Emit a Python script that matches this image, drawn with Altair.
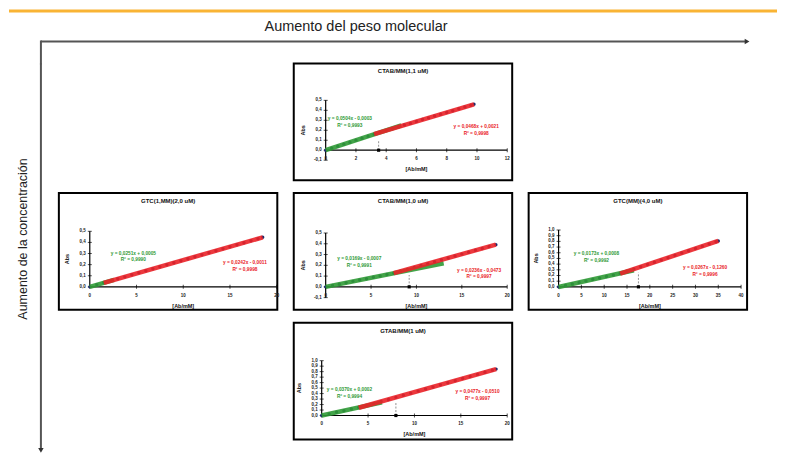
import altair as alt
import pandas as pd

# ---------------- data ----------------
top_title = "CTAB/MM(1,1 uM)"
left_title = "GTC(1,MM)(2,0 uM)"
center_title = "CTAB/MM(1,0 uM)"
right_title = "GTC(MM)(4,0 uM)"
bottom_title = "GTAB/MM(1 uM)"

top_x = [0.0, 0.4, 0.8, 1.2, 1.6, 2.0, 2.4, 2.8, 3.2, 3.6, 4.0, 4.4, 4.8, 5.2, 5.6, 6.0,
         6.4, 6.8, 7.2, 7.6, 8.0, 8.4, 8.8, 9.2, 9.6, 9.8]
top_y = [0.000, 0.021, 0.040, 0.061, 0.080, 0.101, 0.119, 0.141, 0.160, 0.180, 0.197, 0.216,
         0.233, 0.252, 0.269, 0.289, 0.307, 0.324, 0.343, 0.361, 0.379, 0.396, 0.415, 0.433,
         0.451, 0.460]

left_x = [0, 0.75, 1.5, 2.25, 3, 3.75, 4.5, 5.25, 6, 6.75, 7.5, 8.25, 9, 9.75, 10.5, 11.25,
          12, 12.75, 13.5, 14.25, 15, 15.75, 16.5, 17.25, 18, 18.5]
left_y = [0.000, 0.019, 0.037, 0.054, 0.073, 0.090, 0.109, 0.127, 0.145, 0.163, 0.181, 0.199,
          0.217, 0.235, 0.253, 0.271, 0.289, 0.307, 0.325, 0.343, 0.361, 0.379, 0.397, 0.415,
          0.434, 0.446]

center_x = [0, 0.75, 1.5, 2.25, 3, 3.75, 4.5, 5.25, 6, 6.75, 7.5, 8.25, 9, 9.75, 10.5, 11.25,
            12, 12.75, 13.5, 14.25, 15, 15.75, 16.5, 17.25, 18, 18.75]
center_y = [0.000, 0.013, 0.025, 0.038, 0.051, 0.063, 0.076, 0.089, 0.101, 0.114, 0.127, 0.145,
            0.162, 0.180, 0.198, 0.215, 0.233, 0.251, 0.268, 0.286, 0.304, 0.322, 0.339, 0.357,
            0.375, 0.392]

right_x = [0, 1.5, 3, 4.5, 6, 7.5, 9, 10.5, 12, 13.5, 15, 16.5, 18, 19.5, 21, 22.5, 24, 25.5,
           27, 28.5, 30, 31.5, 33, 34.5, 35]
right_y = [0.000, 0.026, 0.052, 0.078, 0.104, 0.130, 0.156, 0.182, 0.208, 0.234, 0.274, 0.314,
           0.354, 0.394, 0.434, 0.474, 0.514, 0.554, 0.594, 0.634, 0.674, 0.714, 0.754, 0.794,
           0.807]

bottom_x = [0, 0.8, 1.6, 2.4, 3.2, 4.0, 4.8, 5.6, 6.4, 7.2, 8.0, 8.8, 9.6, 10.4, 11.2, 12.0,
            12.8, 13.6, 14.4, 15.2, 16.0, 16.8, 17.6, 18.4, 18.8]
bottom_y = [0.000, 0.030, 0.059, 0.089, 0.118, 0.148, 0.178, 0.216, 0.254, 0.292, 0.331, 0.369,
            0.407, 0.445, 0.483, 0.521, 0.560, 0.598, 0.636, 0.674, 0.712, 0.750, 0.789, 0.827,
            0.846]

top_xticks = [0, 2, 4, 6, 8, 10, 12]
top_yticks = [-0.1, 0.0, 0.1, 0.2, 0.3, 0.4, 0.5]
left_xticks = [0, 5, 10, 15, 20]
left_yticks = [0.0, 0.1, 0.2, 0.3, 0.4, 0.5]
center_xticks = [0, 5, 10, 15, 20]
center_yticks = [-0.1, 0.0, 0.1, 0.2, 0.3, 0.4, 0.5]
right_xticks = [0, 5, 10, 15, 20, 25, 30, 35, 40]
right_yticks = [0.0, 0.1, 0.2, 0.3, 0.4, 0.5, 0.6, 0.7, 0.8, 0.9, 1.0]
bottom_xticks = [0, 5, 10, 15, 20]
bottom_yticks = [0.0, 0.1, 0.2, 0.3, 0.4, 0.5, 0.6, 0.7, 0.8, 0.9, 1.0]

top_eqs = ["y = 0,0504x - 0,0003\nR² = 0,9993", "y = 0,0468x + 0,0021\nR² = 0,9998"]
left_eqs = ["y = 0,0251x + 0,0005\nR² = 0,9990", "y = 0,0242x - 0,0011\nR² = 0,9998"]
center_eqs = ["y = 0,0169x - 0,0007\nR² = 0,9991", "y = 0,0236x - 0,0473\nR² = 0,9997"]
right_eqs = ["y = 0,0173x + 0,0008\nR² = 0,9992", "y = 0,0267x - 0,1260\nR² = 0,9996"]
bottom_eqs = ["y = 0,0370x + 0,0002\nR² = 0,9994", "y = 0,0477x - 0,0510\nR² = 0,9997"]

x_title = "[Ab/mM]"
y_title = "Abs"
header_text = "Aumento del peso molecular"
side_text = "Aumento de la concentración"

# ---------------- layout / style ----------------
NAVY = "#1f2a6b"
GREEN = "#2f9a35"
RED = "#ea2228"
ORANGE = "#F9B434"
ARROW = "#555555"
FONT = "Liberation Sans"
W, H = 219, 117

layouts = {
    "top": dict(frame=(32, 15.17, 87, 100), g_max=3.6, g_ext=[0, 5.0], r_min=3.2,
                cross=3.5, dash_top=0.09, eq_g=(1.6, 0.31), eq_r=(9.95, 0.23)),
    "left": dict(frame=(31, 9.37, 94, 111.4), g_max=2.25, g_ext=[0, 2.6], r_min=1.5,
                 cross=None, dash_top=0, eq_g=(4.66, 0.30), eq_r=(16.6, 0.215)),
    "center": dict(frame=(32, 9.1, 94, 108), g_max=7.5, g_ext=[0, 13], r_min=7.5,
                   cross=9.2, dash_top=0.11, eq_g=(3.7, 0.26), eq_r=(16.9, 0.15)),
    "right": dict(frame=(30, 4.575, 94, 57), g_max=15, g_ext=[0, 16.5], r_min=13.5,
                  cross=17.5, dash_top=0.25, eq_g=(8.3, 0.58), eq_r=(32.1, 0.33)),
    "bottom": dict(frame=(28, 9.3, 93, 55), g_max=4.8, g_ext=[0, 6.5], r_min=4.0,
                   cross=8.0, dash_top=0.23, eq_g=(3.0, 0.47), eq_r=(16.8, 0.42)),
}


def fmt_x(v):
    return str(int(v)) if float(v).is_integer() else str(v).replace(".", ",")


def fmt_y(v):
    return f"{v:.1f}".replace(".", ",")


def make_panel(title, xs, ys, xt, yt, eqs, lay):
    x0, sx, y0, sy = lay["frame"]
    xdom = [-x0 / sx, (W - x0) / sx]
    ydom = [-(H - y0) / sy, y0 / sy]
    xsc = alt.Scale(domain=xdom, nice=False, zero=False)
    ysc = alt.Scale(domain=ydom, nice=False, zero=False)

    def X(f):
        return alt.X(f, type="quantitative", scale=xsc, axis=None)

    def Y(f):
        return alt.Y(f, type="quantitative", scale=ysc, axis=None)

    df = pd.DataFrame({"x": xs, "y": ys})
    base = alt.Chart(df)
    layers = []

    # axes
    xa = pd.DataFrame({"a": [xt[0]], "b": [xt[-1]], "z": [0.0]})
    layers.append(alt.Chart(xa).mark_rule(color="black", strokeWidth=1.2)
                  .encode(x=X("a"), x2=alt.X2("b"), y=Y("z")))
    ya = pd.DataFrame({"a": [yt[0]], "b": [yt[-1]], "z": [0.0]})
    layers.append(alt.Chart(ya).mark_rule(color="black", strokeWidth=1.2)
                  .encode(y=Y("a"), y2=alt.Y2("b"), x=X("z")))
    xtd = pd.DataFrame({"v": xt, "z": [0.0] * len(xt), "lab": [fmt_x(v) for v in xt]})
    ytd = pd.DataFrame({"v": yt, "z": [0.0] * len(yt), "lab": [fmt_y(v) for v in yt]})
    layers.append(alt.Chart(xtd).mark_tick(orient="vertical", size=4, thickness=1, color="black")
                  .encode(x=X("v"), y=Y("z")))
    layers.append(alt.Chart(ytd).mark_tick(orient="horizontal", size=4, thickness=1, color="black")
                  .encode(x=X("z"), y=Y("v")))
    layers.append(alt.Chart(xtd).mark_text(fontSize=4.5, dy=9, baseline="middle", font=FONT,
                                           fontWeight="bold", color="#222")
                  .encode(x=X("v"), y=Y("z"), text="lab:N"))
    layers.append(alt.Chart(ytd).mark_text(fontSize=4.5, dx=-4, align="right", baseline="middle",
                                           font=FONT, fontWeight="bold", color="#222")
                  .encode(x=X("z"), y=Y("v"), text="lab:N"))

    # dashed marker line
    if lay["cross"] is not None:
        dd = pd.DataFrame({"x": [lay["cross"]], "a": [0.0], "b": [lay["dash_top"]]})
        layers.append(alt.Chart(dd).mark_rule(color="#777", strokeWidth=0.8, strokeDash=[2, 1.5])
                      .encode(x=X("x"), y=Y("a"), y2=alt.Y2("b")))

    # data points and trend lines
    layers.append(base.mark_point(filled=True, size=12, color=NAVY, opacity=1)
                  .encode(x=X("x"), y=Y("y")))
    layers.append(base.transform_filter(alt.datum.x <= lay["g_max"])
                  .transform_regression("x", "y", extent=lay["g_ext"])
                  .mark_line(color=GREEN, strokeWidth=4.5, opacity=0.9)
                  .encode(x=X("x"), y=Y("y")))
    layers.append(base.transform_filter(alt.datum.x >= lay["r_min"])
                  .transform_regression("x", "y")
                  .mark_line(color=RED, strokeWidth=4.5, opacity=0.9)
                  .encode(x=X("x"), y=Y("y")))

    if lay["cross"] is not None:
        md = pd.DataFrame({"x": [lay["cross"]], "y": [0.0]})
        layers.append(alt.Chart(md).mark_point(shape="square", filled=True, size=10,
                                               color="black", opacity=1)
                      .encode(x=X("x"), y=Y("y")))

    # equations
    ed = pd.DataFrame({"x": [lay["eq_g"][0], lay["eq_r"][0]],
                       "y": [lay["eq_g"][1], lay["eq_r"][1]],
                       "t": eqs, "c": [GREEN, RED]})
    layers.append(alt.Chart(ed).mark_text(lineBreak="\n", fontSize=4.8, fontWeight="bold",
                                          font=FONT, baseline="middle")
                  .encode(x=X("x"), y=Y("y"), text="t:N", color=alt.Color("c:N", scale=None)))

    # titles
    td = pd.DataFrame({"x": [(xdom[0] + xdom[1]) / 2], "y": [ydom[1]], "t": [title]})
    layers.append(alt.Chart(td).mark_text(fontSize=6, fontWeight="bold", dy=8, font=FONT,
                                          baseline="middle", color="#111")
                  .encode(x=X("x"), y=Y("y"), text="t:N"))
    xtt = pd.DataFrame({"x": [(xt[0] + xt[-1]) / 2], "y": [0.0], "t": [x_title]})
    layers.append(alt.Chart(xtt).mark_text(fontSize=5.5, fontWeight="bold", dy=19, font=FONT,
                                           baseline="middle", color="#111")
                  .encode(x=X("x"), y=Y("y"), text="t:N"))
    ytt = pd.DataFrame({"x": [-23 / sx], "y": [(yt[0] + yt[-1]) / 2], "t": [y_title]})
    layers.append(alt.Chart(ytt).mark_text(fontSize=5.5, fontWeight="bold", angle=270, font=FONT,
                                           baseline="middle", color="#111")
                  .encode(x=X("x"), y=Y("y"), text="t:N"))

    return alt.layer(*layers).properties(
        width=W, height=H,
        view=alt.ViewBackground(stroke="black", strokeWidth=2, fill="white"))


p_top = make_panel(top_title, top_x, top_y, top_xticks, top_yticks, top_eqs, layouts["top"])
p_left = make_panel(left_title, left_x, left_y, left_xticks, left_yticks, left_eqs, layouts["left"])
p_center = make_panel(center_title, center_x, center_y, center_xticks, center_yticks, center_eqs,
                      layouts["center"])
p_right = make_panel(right_title, right_x, right_y, right_xticks, right_yticks, right_eqs,
                     layouts["right"])
p_bottom = make_panel(bottom_title, bottom_x, bottom_y, bottom_xticks, bottom_yticks, bottom_eqs,
                      layouts["bottom"])

one = pd.DataFrame({"z": [0]})


def spacer():
    return alt.Chart(one).mark_point(opacity=0).encode(
        x=alt.X("z:Q", axis=None), y=alt.Y("z:Q", axis=None)).properties(width=W, height=H)


header = alt.layer(
    alt.Chart(one).mark_rect(color=ORANGE).encode(
        x=alt.value(0), x2=alt.value(770), y=alt.value(0), y2=alt.value(3)),
    alt.Chart(one).mark_text(text=header_text, font=FONT, fontSize=14.5, color="#222",
                             baseline="middle").encode(x=alt.value(348), y=alt.value(17)),
    alt.Chart(one).mark_rule(color=ARROW, strokeWidth=2).encode(
        x=alt.value(32), x2=alt.value(738), y=alt.value(32)),
    alt.Chart(one).mark_rule(color=ARROW, strokeWidth=2).encode(
        x=alt.value(32), y=alt.value(31), y2=alt.value(55)),
    alt.Chart(one).mark_point(shape="triangle-right", filled=True, size=30, color="#333",
                              opacity=1).encode(x=alt.value(740), y=alt.value(32)),
).properties(width=770, height=54)

side = alt.layer(
    alt.Chart(one).mark_rule(color=ARROW, strokeWidth=2).encode(
        x=alt.value(32), y=alt.value(0), y2=alt.value(386)),
    alt.Chart(one).mark_point(shape="triangle-down", filled=True, size=30, color="#333",
                              opacity=1).encode(x=alt.value(32), y=alt.value(388)),
    alt.Chart(one).mark_text(text=side_text, font=FONT, fontSize=12.5, color="#222", angle=270,
                             baseline="middle").encode(x=alt.value(14), y=alt.value(176)),
).properties(width=50, height=392)

row1 = alt.hconcat(spacer(), p_top, spacing=16.5, bounds="flush")
row2 = alt.hconcat(p_left, p_center, p_right, spacing=16.5, bounds="flush")
row3 = alt.hconcat(spacer(), p_bottom, spacing=16.5, bounds="flush")
grid = alt.vconcat(row1, row2, row3, spacing=11)
body = alt.hconcat(side, grid, spacing=0, bounds="flush")

chart = alt.vconcat(header, body, spacing=0, bounds="flush").properties(
    padding=0, background="white"
).configure_view(stroke="transparent")

chart.save("out.html", embed_options={"renderer": "svg", "actions": False})
